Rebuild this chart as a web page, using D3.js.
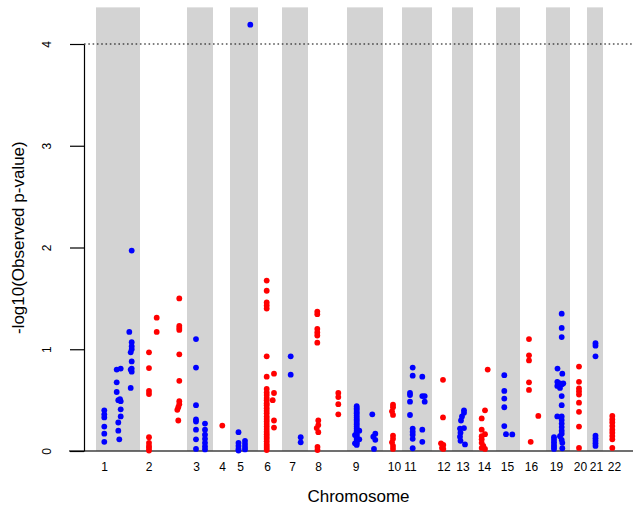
<!DOCTYPE html>
<html>
<head>
<meta charset="utf-8">
<script src="https://cdn.jsdelivr.net/npm/d3@7"></script>
<style>
  html, body { margin: 0; padding: 0; background: #fff; }
  svg { display: block; }
  text { font-family: "Liberation Sans", Arial, Helvetica, sans-serif; fill: #000; }
</style>
</head>
<body>
<svg id="chart" width="641" height="514"></svg>
<script>
// ---------------- data ----------------
const chromosomes = ["1","2","3","4","5","6","7","8","9","10","11","12","13","14","15","16","19","20","21","22"];
// chromosome extents on the cumulative position axis (arbitrary units)
const chrStart = [12, 56, 103, 129, 146, 174, 198, 224, 263, 299, 318, 348, 368, 389, 412, 436, 462, 486, 503, 519];
const chrEnd   = [56, 103, 129, 146, 174, 198, 224, 263, 299, 318, 348, 368, 389, 412, 436, 462, 486, 503, 519, 545];
// label positions on the cumulative axis
const tickPos  = [20, 64.5, 112, 138, 156, 183, 208, 234, 271.5, 310, 326, 359.5, 378.5, 400, 423, 447, 472, 496, 512, 530];
const yTicks = [0, 1, 2, 3, 4];
const threshold = 4;
const yUpper = 4.36;
const seriesColors = ["#0000FF", "#FF0000"];

// SNPs: [chromosome, cumulative position, -log10(p)]
const snps = [
  // chr 1
  ["1",20.3,0.40],["1",20.3,0.36],["1",20.3,0.33],["1",20.3,0.24],["1",20.3,0.17],["1",20.3,0.09],
  ["1",32.7,0.80],["1",36.7,0.81],["1",32.7,0.675],["1",32.7,0.58],["1",34.3,0.50],["1",36,0.51],["1",36.7,0.49],
  ["1",36.7,0.41],["1",36.7,0.34],["1",34.3,0.28],["1",34.3,0.20],["1",35.3,0.115],
  ["1",47.7,1.97],["1",45.3,1.17],["1",47.7,1.07],["1",47.7,1.03],["1",47.7,1.00],["1",46.7,0.97],
  ["1",47.7,0.88],["1",47.7,0.81],["1",46.7,0.80],["1",47.7,0.78],["1",46.7,0.62],
  // chr 2
  ["2",65,0.97],["2",65,0.815],["2",65,0.59],["2",65,0.56],["2",65,0.135],["2",65,0.08],["2",65,0.05],["2",65,0.03],["2",65,0.005],
  ["2",72.7,1.31],["2",72.7,1.17],
  ["2",95.3,1.50],["2",95.3,1.23],["2",95.3,1.21],["2",95.3,1.19],["2",95.3,0.95],["2",95.3,0.69],["2",95.3,0.49],["2",95.3,0.46],
  ["2",94.3,0.43],["2",93.3,0.405],["2",94.3,0.30],
  // chr 3
  ["3",112,1.10],["3",112,0.82],["3",112,0.45],["3",112,0.31],["3",112,0.29],["3",112,0.21],["3",112,0.115],["3",112,0.02],
  ["3",121,0.27],["3",121,0.21],["3",121,0.16],["3",121,0.12],["3",121,0.08],["3",121,0.045],["3",121,0.015],
  // chr 4
  ["4",138.3,0.25],
  // chr 5
  ["5",154.5,0.185],["5",154.5,0.08],["5",154.5,0.05],["5",154.5,0.02],["5",154.5,0.005],
  ["5",161,0.10],["5",161,0.07],["5",161,0.04],["5",161,0.015],
  ["5",166.3,4.19],
  // chr 6
  ["6",182.7,1.675],["6",182.7,1.575],["6",182.7,1.46],["6",182.7,1.43],["6",182.7,1.40],["6",182.7,0.93],["6",182.7,0.73],["6",182.7,0.61],
  ["6",182.7,0.575],["6",182.7,0.55],["6",182.7,0.52],["6",182.7,0.50],["6",182.7,0.47],["6",182.7,0.45],["6",182.7,0.42],["6",182.7,0.395],
  ["6",182.7,0.37],["6",182.7,0.34],["6",182.7,0.315],["6",182.7,0.29],["6",182.7,0.265],["6",182.7,0.24],["6",182.7,0.215],["6",182.7,0.19],
  ["6",182.7,0.165],["6",182.7,0.14],["6",182.7,0.12],["6",182.7,0.095],["6",182.7,0.07],["6",182.7,0.05],["6",182.7,0.03],["6",182.7,0.01],
  ["6",190,0.76],["6",190,0.57],["6",188.7,0.50],["6",190,0.30],["6",190,0.23],
  // chr 7
  ["7",206.7,0.93],["7",206.7,0.75],["7",216.7,0.135],["7",216.7,0.085],
  // chr 8
  ["8",233.3,1.37],["8",233.3,1.345],["8",233.3,1.20],["8",233.3,1.165],["8",233.3,1.135],["8",233.3,1.065],
  ["8",234.3,0.30],["8",234.3,0.255],["8",232.7,0.225],["8",234.3,0.185],["8",233.5,0.04],["8",233.5,0.01],
  ["8",254.3,0.57],["8",254.3,0.53],["8",254.3,0.46],["8",254.3,0.36],
  // chr 9
  ["9",272.7,0.44],["9",272.7,0.42],["9",272.7,0.405],["9",272.7,0.385],["9",272.7,0.37],["9",272.7,0.35],["9",272.7,0.33],["9",272.7,0.31],
  ["9",272.7,0.295],["9",272.7,0.275],["9",272.7,0.26],["9",272.7,0.24],["9",272.7,0.22],["9",272.7,0.20],["9",272.7,0.185],["9",272.7,0.165],
  ["9",272.7,0.15],["9",272.7,0.13],["9",272.7,0.11],["9",272.7,0.09],["9",272.7,0.075],["9",272.7,0.06],
  ["9",275.3,0.20],["9",275.3,0.115],["9",271,0.157],["9",271,0.075],
  ["9",288.3,0.36],["9",291.3,0.17],["9",289.3,0.14],["9",291.3,0.11],["9",290,0.02],
  // chr 10
  ["10",309,0.455],["10",309,0.43],["10",308,0.39],["10",309,0.355],["10",309,0.15],["10",309,0.12],["10",308,0.085],["10",309,0.05],["10",309,0.02],
  // chr 11
  ["11",328.7,0.82],["11",328.7,0.74],["11",328.7,0.22],["11",328.7,0.19],["11",328.7,0.16],["11",328.7,0.12],["11",328.7,0.027],
  ["11",326,0.57],["11",326,0.55],["11",326,0.485],["11",326,0.354],
  ["11",338.3,0.73],["11",338.3,0.54],["11",338.3,0.21],["11",338.3,0.09],["11",340.7,0.54],["11",340.7,0.485],
  // chr 12
  ["12",359,0.70],["12",359,0.33],["12",357,0.075],["12",359.3,0.06],["12",358,0.03],["12",359.3,0.02],
  // chr 13
  ["13",380,0.40],["13",380,0.375],["13",378,0.34],["13",377,0.30],["13",376,0.22],["13",380,0.225],
  ["13",376.5,0.18],["13",376,0.14],["13",376.5,0.10],["13",381,0.065],
  // chr 14
  ["14",403.7,0.80],["14",401,0.40],["14",397.7,0.32],["14",397.7,0.21],["14",401,0.165],["14",397.7,0.145],
  ["14",397.7,0.115],["14",397.7,0.08],["14",399.3,0.05],["14",397.7,0.03],["14",401,0.02],
  // chr 15
  ["15",420.3,0.745],["15",420.3,0.59],["15",420.3,0.515],["15",420.3,0.43],["15",420.3,0.245],["15",422,0.165],["15",428.3,0.163],
  // chr 16
  ["16",445,1.10],["16",445,0.94],["16",445,0.89],["16",445,0.675],["16",445,0.60],["16",454.3,0.345],["16",446.7,0.09],
  // chr 19
  ["19",477.7,1.35],["19",477.7,1.21],["19",477.7,1.12],["19",473.5,0.81],["19",478.3,0.76],
  ["19",473.3,0.68],["19",476,0.665],["19",478,0.655],["19",479.3,0.665],["19",473.3,0.64],["19",476,0.62],
  ["19",477.7,0.54],["19",477.7,0.45],["19",473.3,0.34],["19",477.7,0.34],["19",477.7,0.305],["19",477.7,0.27],
  ["19",477.7,0.235],["19",477.7,0.20],["19",477.7,0.17],["19",476,0.145],["19",477.7,0.11],["19",478.3,0.08],["19",478.3,0.027],
  ["19",470,0.135],["19",470,0.11],["19",470,0.085],["19",470,0.06],["19",470,0.04],["19",470,0.02],
  // chr 20
  ["20",495,0.83],["20",495,0.68],["20",495,0.615],["20",495,0.585],["20",495,0.555],["20",495,0.475],["20",495,0.385],["20",495,0.24],["20",495,0.03],
  // chr 21
  ["21",511.5,1.06],["21",511.5,1.035],["21",511.5,0.93],["21",511.5,0.15],["21",511.5,0.125],["21",511.5,0.10],["21",511.5,0.075],["21",511.5,0.05],
  // chr 22
  ["22",528.3,0.344],["22",528.3,0.31],["22",528.3,0.28],["22",528.3,0.245],["22",528.3,0.21],["22",528.3,0.18],["22",528.3,0.147],["22",528.3,0.115],["22",528.3,0.03]
];

// ---------------- layout ----------------
const svg = d3.select("#chart");
const plotLeft = 84, plotRight = 633, plotBottom = 451, y4px = 44;

const x = d3.scaleLinear().domain([0, 549]).range([plotLeft, plotRight]);
const y = d3.scaleLinear().domain([0, 4]).range([plotBottom, y4px]);

// alternating grey bands
svg.append("g").selectAll("rect")
  .data(chromosomes.map((c, i) => ({c, i, s: chrStart[i], e: chrEnd[i]})).filter(d => d.i % 2 === 0))
  .join("rect")
  .attr("x", d => x(d.s))
  .attr("width", d => x(d.e) - x(d.s))
  .attr("y", y(yUpper))
  .attr("height", y(0) - y(yUpper))
  .attr("fill", "#D3D3D3");

// baseline
svg.append("line")
  .attr("x1", 69).attr("x2", plotRight)
  .attr("y1", y(0)).attr("y2", y(0))
  .attr("stroke", "#404040").attr("stroke-width", 1.5);

// threshold dotted line
svg.append("line")
  .attr("x1", plotLeft).attr("x2", plotRight)
  .attr("y1", y(threshold)).attr("y2", y(threshold))
  .attr("stroke", "#000").attr("stroke-width", 1.2)
  .attr("stroke-dasharray", "1.6,2.7");

// points
const chrIndex = new Map(chromosomes.map((c, i) => [c, i]));
svg.append("g").selectAll("circle")
  .data(snps)
  .join("circle")
  .attr("cx", d => x(d[1]))
  .attr("cy", d => y(d[2]))
  .attr("r", 2.9)
  .attr("fill", d => seriesColors[chrIndex.get(d[0]) % 2]);

// y axis
const yAxis = svg.append("g")
  .attr("transform", `translate(${plotLeft},0)`)
  .call(d3.axisLeft(y).tickValues(yTicks).tickSize(14).tickSizeOuter(0).tickFormat(d3.format("d")));
yAxis.select(".domain").attr("stroke", "#000").attr("stroke-width", 1.2);
yAxis.selectAll(".tick line").attr("stroke", "#000").attr("stroke-width", 1.2);
yAxis.selectAll(".tick text")
  .attr("x", 0).attr("dy", 0)
  .attr("text-anchor", "middle")
  .attr("transform", "translate(-33.5,0) rotate(-90)")
  .style("font-size", "12px")
  .style("font-family", "\"Liberation Sans\", Arial, sans-serif")
  .attr("fill", "#000");

// x axis labels (no ticks)
const xAxis = svg.append("g")
  .attr("transform", `translate(0,${plotBottom})`)
  .call(d3.axisBottom(x).tickValues(tickPos).tickSize(0).tickPadding(11.5)
    .tickFormat((d, i) => chromosomes[i]));
xAxis.select(".domain").remove();
xAxis.selectAll(".tick text")
  .style("font-size", "12px")
  .style("font-family", "\"Liberation Sans\", Arial, sans-serif")
  .attr("fill", "#000");

// axis titles
svg.append("text")
  .attr("x", (plotLeft + plotRight) / 2)
  .attr("y", 502)
  .attr("text-anchor", "middle")
  .style("font-size", "17px")
  .text("Chromosome");

svg.append("text")
  .attr("transform", `translate(24,${(y(yUpper) + 468) / 2}) rotate(-90)`)
  .attr("text-anchor", "middle")
  .style("font-size", "17px")
  .text("-log10(Observed p-value)");
</script>
</body>
</html>
